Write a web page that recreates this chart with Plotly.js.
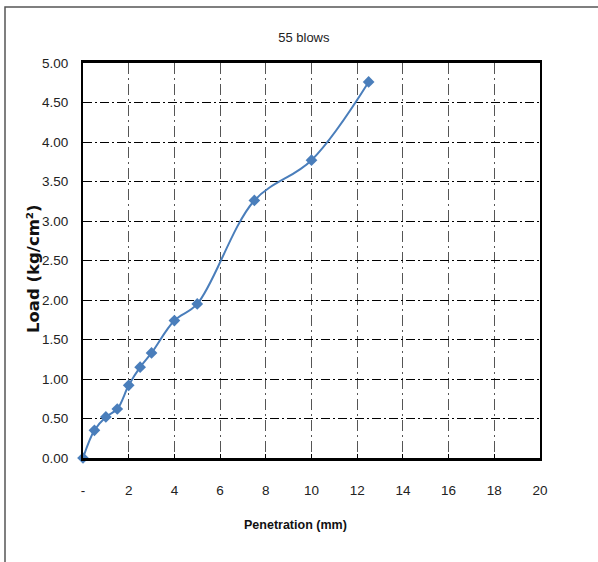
<!DOCTYPE html>
<html>
<head>
<meta charset="utf-8">
<script src="https://cdn.plot.ly/plotly-3.0.1.min.js"></script>
<style>html,body{margin:0;padding:0;background:#fff;}</style>
</head>
<body>
<div id="chart" style="width:598px;height:562px;"></div>
<script>
const penetration = [0, 0.5, 1.0, 1.5, 2.0, 2.5, 3.0, 4.0, 5.0, 7.5, 10.0, 12.5];
const load = [0.00, 0.35, 0.52, 0.62, 0.92, 1.15, 1.33, 1.74, 1.95, 3.26, 3.77, 4.76];
const xTickVals = [0, 2, 4, 6, 8, 10, 12, 14, 16, 18, 20];
const xTickText = ['-', '2', '4', '6', '8', '10', '12', '14', '16', '18', '20'];
const yTickVals = [0, 0.5, 1, 1.5, 2, 2.5, 3, 3.5, 4, 4.5, 5];
const yTickText = ['0.00','0.50','1.00','1.50','2.00','2.50','3.00','3.50','4.00','4.50','5.00'];

const sans = '"Liberation Sans", Arial, sans-serif';
const L = 83, R = 58, T = 63, B = 104, W = 598, H = 562;
const pw = W - L - R, ph = H - T - B;

const trace = {
  x: penetration, y: load, type: 'scatter', mode: 'lines+markers',
  line: {color: '#4A7EBB', width: 2, shape: 'spline', smoothing: 1},
  marker: {symbol: 'diamond', size: 9, color: '#4A7EBB'},
  cliponaxis: false, showlegend: false, hoverinfo: 'x+y'
};

const layout = {
  width: W, height: H,
  margin: {l: L, r: R, t: T, b: B, pad: 0},
  paper_bgcolor: '#fff', plot_bgcolor: '#fff',
  title: {text: '55 blows', x: 289 / W, xref: 'paper', xanchor: 'center', y: 1 - 37 / H, yanchor: 'middle', yref: 'container',
          font: {family: sans, size: 13, color: '#222'}},
  xaxis: {
    range: [0, 20], tickvals: xTickVals, ticktext: xTickText,
    showgrid: true, gridcolor: '#555', gridwidth: 1, griddash: '11px,4px,2px,4px',
    showline: true, linecolor: '#000', linewidth: 3, mirror: true,
    ticks: 'inside', ticklen: 4, tickcolor: '#000', tickwidth: 1,
    ticklabelstandoff: 18,
    tickfont: {family: sans, size: 13.5, color: '#222'},
    zeroline: false, fixedrange: true
  },
  yaxis: {
    range: [0, 5], tickvals: yTickVals, ticktext: yTickText,
    showgrid: true, gridcolor: '#000', gridwidth: 1, griddash: '9px,3px,2px,3px',
    showline: true, linecolor: '#000', linewidth: 2, mirror: true,
    ticks: '', ticklabelstandoff: 10,
    tickfont: {family: sans, size: 13.5, color: '#222'},
    zeroline: false, fixedrange: true
  },
  annotations: [
    {text: 'Load (kg/cm²)', xref: 'paper', yref: 'paper', x: (33 - L) / pw, y: (458 - 269) / ph,
     xanchor: 'center', yanchor: 'middle', textangle: -90, showarrow: false,
     font: {family: '"DejaVu Sans", sans-serif', size: 16.5, color: '#111', weight: 'bold'}},
    {text: '<b>Penetration (mm)</b>', xref: 'paper', yref: 'paper', x: (295 - L) / pw, y: (458 - 525) / ph,
     xanchor: 'center', yanchor: 'middle', showarrow: false,
     font: {family: sans, size: 12.5, color: '#111'}}
  ],
  shapes: [
    {type: 'rect', xref: 'paper', yref: 'paper', x0: (5 - L) / pw, x1: (605 - L) / pw, y0: (458 - 570) / ph, y1: 1 + (T - 7) / ph,
     line: {color: '#555', width: 1.5}, fillcolor: 'rgba(0,0,0,0)', layer: 'below'}
  ]
};

Plotly.newPlot('chart', [trace], layout, {displayModeBar: false, staticPlot: true});
</script>
</body>
</html>
